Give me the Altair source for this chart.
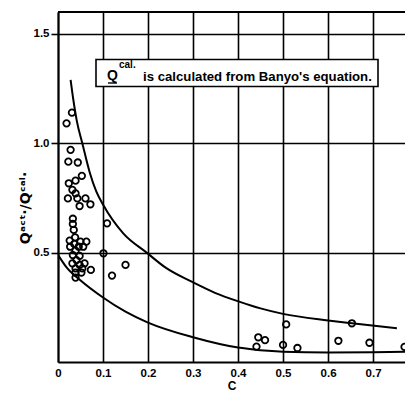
import altair as alt
import pandas as pd

# scatter points: C and Q_act/Q_cal
pts_c = [0.031, 0.019, 0.028, 0.023, 0.044, 0.053, 0.039, 0.024, 0.032, 0.039,
         0.022, 0.043, 0.061, 0.048, 0.072, 0.109, 0.033, 0.033, 0.035, 0.038,
         0.026, 0.036, 0.050, 0.063, 0.046, 0.056, 0.027, 0.039, 0.101, 0.033,
         0.048, 0.041, 0.059, 0.032, 0.048, 0.039, 0.054, 0.073, 0.150, 0.039,
         0.052, 0.039, 0.120,
         0.441, 0.445, 0.460, 0.507, 0.500, 0.532, 0.623, 0.653, 0.692, 0.770]
pts_v = [1.140, 1.091, 0.970, 0.916, 0.912, 0.851, 0.829, 0.817, 0.787, 0.771,
         0.748, 0.748, 0.748, 0.713, 0.721, 0.634, 0.655, 0.631, 0.604, 0.570,
         0.555, 0.540, 0.550, 0.550, 0.527, 0.527, 0.527, 0.509, 0.497, 0.489,
         0.485, 0.466, 0.451, 0.451, 0.444, 0.428, 0.428, 0.421, 0.444, 0.409,
         0.409, 0.386, 0.395,
         0.070, 0.113, 0.100, 0.172, 0.078, 0.064, 0.097, 0.177, 0.088, 0.069]

# upper envelope curve
upper_c = [0.028, 0.034, 0.042, 0.054, 0.07, 0.085, 0.1, 0.145, 0.197, 0.24,
           0.297, 0.35, 0.404, 0.45, 0.5, 0.6, 0.653, 0.753]
upper_v = [1.29, 1.20, 1.10, 1.00, 0.87, 0.78, 0.72, 0.588, 0.50, 0.43,
           0.367, 0.315, 0.275, 0.245, 0.22, 0.19, 0.177, 0.154]

# lower envelope curve
lower_c = [0.0, 0.02, 0.049, 0.1, 0.15, 0.2, 0.3, 0.4, 0.43, 0.5, 0.6, 0.7, 0.79]
lower_v = [0.49, 0.43, 0.375, 0.295, 0.23, 0.18, 0.113, 0.066, 0.058, 0.047,
           0.044, 0.045, 0.047]

x_ticks = [0.0, 0.1, 0.2, 0.3, 0.4, 0.5, 0.6, 0.7]
y_ticks = [0.5, 1.0, 1.5]

FONT = "Liberation Sans"

pts = pd.DataFrame({"c": pts_c, "v": pts_v})
up = pd.DataFrame({"c": upper_c, "v": upper_v})
lo = pd.DataFrame({"c": lower_c, "v": lower_v})

xs = alt.Scale(domain=[0, 0.771], nice=False, zero=False)
ys = alt.Scale(domain=[0, 1.6], nice=False)

xax = alt.Axis(values=x_ticks, grid=True, gridColor="black", gridWidth=1.6,
               gridOpacity=1, ticks=False, domainColor="black", domainWidth=2,
               labelFont=FONT, labelFontWeight="bold", labelFontSize=11.5,
               labelColor="black", labelFlush=False, labelPadding=5,
               labelExpr="datum.value == 0 ? '0' : format(datum.value, '.1f')",
               title="C", titleFont=FONT, titleFontWeight="bold",
               titleFontSize=12, titleColor="black", titlePadding=2)
yax = alt.Axis(values=y_ticks, grid=True, gridColor="black", gridWidth=1.6,
               gridOpacity=1, ticks=True, tickColor="black", tickWidth=1.6,
               tickSize=7, domainColor="black", domainWidth=2,
               labelFont=FONT, labelFontWeight="bold", labelFontSize=11.5,
               labelColor="black", labelPadding=2, format=".1f", title=None)

base_pts = alt.Chart(pts).mark_point(
    shape="circle", filled=False, stroke="black", strokeWidth=1.8, size=42,
    opacity=1, clip=True
).encode(x=alt.X("c:Q", scale=xs, axis=xax), y=alt.Y("v:Q", scale=ys, axis=yax))

upper_line = alt.Chart(up).mark_line(
    color="black", strokeWidth=2, interpolate="monotone", clip=True
).encode(x=alt.X("c:Q", scale=xs), y=alt.Y("v:Q", scale=ys))

lower_line = alt.Chart(lo).mark_line(
    color="black", strokeWidth=2, interpolate="monotone", clip=True
).encode(x=alt.X("c:Q", scale=xs), y=alt.Y("v:Q", scale=ys))

top_rule = alt.Chart(pd.DataFrame({"v": [1.6]})).mark_rule(
    color="black", strokeWidth=2
).encode(y=alt.Y("v:Q", scale=ys))

box = alt.Chart(pd.DataFrame({"a": [0]})).mark_rect(
    fill="white", stroke="black", strokeWidth=1.6
).encode(x=alt.value(38), x2=alt.value(320), y=alt.value(47.5), y2=alt.value(74.5))

q_txt = alt.Chart(pd.DataFrame({"t": ["Q"]})).mark_text(
    font=FONT, fontWeight="bold", fontSize=14, align="center", baseline="middle",
    color="black"
).encode(x=alt.value(54.5), y=alt.value(63.5), text="t:N")

q_ul = alt.Chart(pd.DataFrame({"a": [0]})).mark_rule(
    color="black", strokeWidth=1.4
).encode(x=alt.value(50), x2=alt.value(59), y=alt.value(71))

sup_txt = alt.Chart(pd.DataFrame({"t": ["cal."]})).mark_text(
    font=FONT, fontWeight="bold", fontSize=10, align="left", baseline="middle",
    color="black"
).encode(x=alt.value(61), y=alt.value(53), text="t:N")

main_txt = alt.Chart(pd.DataFrame({"t": ["is calculated from Banyo's equation."]})).mark_text(
    font=FONT, fontWeight="bold", fontSize=13.2, align="left", baseline="middle",
    color="black"
).encode(x=alt.value(85), y=alt.value(65), text="t:N")

ytitle = alt.Chart(pd.DataFrame({"t": ["Qᵃᶜᵗ·/Qᶜᵃˡ·"]})).mark_text(
    font="DejaVu Sans", fontWeight="bold", fontSize=14, angle=270,
    align="center", baseline="middle", color="black"
).encode(x=alt.value(-32), y=alt.value(196), text="t:N")

chart = alt.layer(
    top_rule, upper_line, lower_line, base_pts, box, q_txt, q_ul, sup_txt,
    main_txt, ytitle
).properties(
    width=347, height=350,
    autosize=alt.AutoSizeParams(type="none"),
    padding={"left": 50, "top": 4, "right": 0, "bottom": 31},
    background="white"
).configure_view(stroke=None)

chart.save("out.html", embed_options={"renderer": "svg", "actions": False})
